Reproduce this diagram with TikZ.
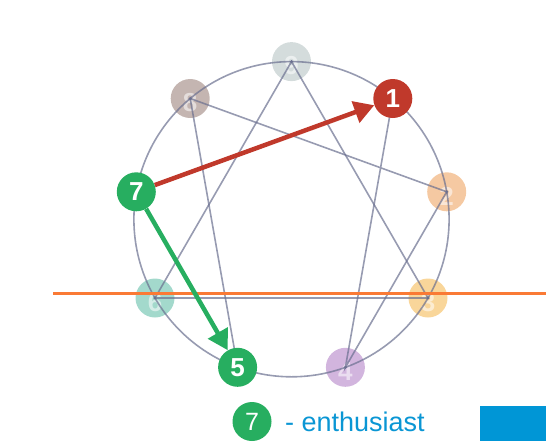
\documentclass[tikz,border=0pt]{standalone}
\usepackage{fontspec}
\newfontfamily\lsans{Liberation Sans}
\usetikzlibrary{arrows.meta}
\definecolor{c9}{HTML}{D4DCDC}
\definecolor{c8}{HTML}{C4B5B1}
\definecolor{c2}{HTML}{F5C9A2}
\definecolor{c3}{HTML}{F9D69A}
\definecolor{c4}{HTML}{D2B5DE}
\definecolor{c6}{HTML}{A3D9CC}
\definecolor{cred}{HTML}{C0392B}
\definecolor{cgreen}{HTML}{27AE60}
\definecolor{cline}{HTML}{6B7090}
\definecolor{corange}{HTML}{FA7A35}
\definecolor{cblue}{HTML}{0A96D4}
\definecolor{cbox}{HTML}{0096D6}
\tikzset{
  faded/.style={circle,minimum size=39pt,inner sep=0pt,draw=none,text=white,text opacity=0.55,
    font=\lsans\bfseries\fontsize{26}{26}\selectfont},
  fadedtxt/.style={inner sep=0pt,text=white,text opacity=0.55,
    font=\lsans\bfseries\fontsize{26}{26}\selectfont},
  bold/.style={circle,minimum size=39pt,inner sep=0pt,draw=none,text=white,
    font=\lsans\bfseries\fontsize{26}{26}\selectfont},
  thin/.style={draw=cline,draw opacity=0.7,line width=1.6pt},
  bigarrow/.style={line width=4.5pt,-{Triangle[length=20pt,width=22pt]}},
  legendtxt/.style={inner sep=0pt,text=cblue,font=\lsans\fontsize{27}{27}\selectfont},
}
\begin{document}
\begin{tikzpicture}[x=1pt,y=-1pt]
\useasboundingbox (0,0) rectangle (546,445);
\coordinate (c) at (291.5,219.2);
% faded nodes
\node[faded,fill=c9] (n9) at (291.5,61.6) {};
\node[faded,fill=c8] (n8) at (190.2,98.5) {};
\node[faded,fill=c2] (n2) at (446.7,191.8) {};
\node[faded,fill=c3] (n3) at (428.0,298.0) {};
\node[faded,fill=c4] (n4) at (345.4,367.3) {};
\node[faded,fill=c6] (n6) at (155.0,298.0) {};
\node[fadedtxt] (t9) at (291.5,66) {9};
\node[fadedtxt] (t8) at (190.2,103) {8};
\node[fadedtxt] (t2) at (446.7,196.5) {2};
\node[fadedtxt] (t3) at (428.0,302.5) {3};
\node[fadedtxt] (t4) at (345.4,372) {4};
\node[fadedtxt] (t6) at (155.0,302.5) {6};
% positions of bold nodes
\coordinate (p1) at (392.8,98.5);
\coordinate (p5) at (237.6,367.3);
\coordinate (p7) at (136.3,191.8);
% circle and lines
\draw[thin] (c) circle (157.6);
\draw[thin] (n9.center) -- (n3.center) -- (n6.center) -- cycle;
\draw[thin] (n8.center) -- (n2.center) -- (n4.center) -- (p1);
\draw[thin] (n8.center) -- (p5);
\foreach \n in {n9,n8,n2,n3,n4,n6} \fill[cline,opacity=0.9] (\n.center) circle (1.6);
% orange line
\coordinate (oa) at (53,293);
\coordinate (ob) at (546,293);
\draw[corange,line width=3pt] (oa) -- (ob);
% bold nodes
\node[bold,fill=cred] (n1) at (p1) {1};
\node[bold,fill=cgreen] (n5) at (p5) {5};
\node[bold,fill=cgreen] (n7) at (p7) {7};
% arrows
\draw[bigarrow,cred] (n7) -- (n1);
\draw[bigarrow,cgreen] (n7) -- (n5);
% legend
\node[circle,minimum size=39pt,inner sep=0pt,fill=cgreen,text=white,
  font=\lsans\fontsize{25}{25}\selectfont] (lg) at (252,421.5) {7};
\node[legendtxt,anchor=base west] (lt) at (285,431) {- enthusiast};
\fill[cbox] (480,406) rectangle (546,441);
\end{tikzpicture}
\end{document}
